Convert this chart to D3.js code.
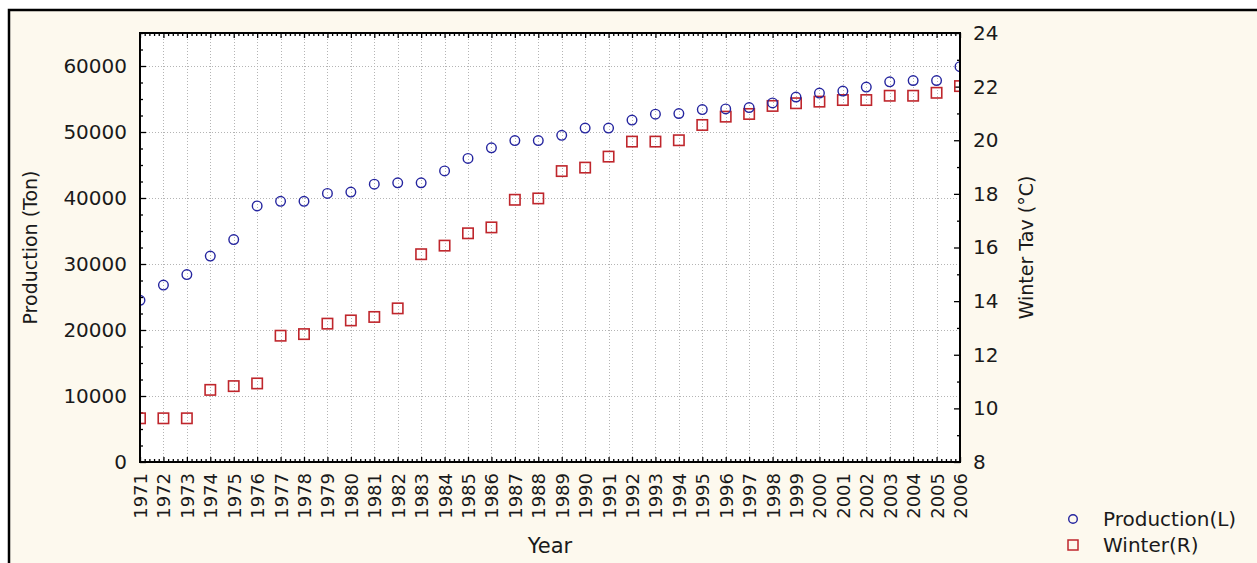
<!DOCTYPE html>
<html>
<head>
<meta charset="utf-8">
<script src="https://cdn.jsdelivr.net/npm/d3@7"></script>
<style>
  html, body { margin: 0; padding: 0; background: #ffffff; overflow: hidden; }
  svg { display: block; }
  svg text { font-family: "DejaVu Sans", sans-serif; fill: #1a1a1a; }
</style>
</head>
<body>
<div id="wrapper"></div>
<script>
// Data
const years = [1971, 1972, 1973, 1974, 1975, 1976, 1977, 1978, 1979, 1980,
  1981, 1982, 1983, 1984, 1985, 1986, 1987, 1988, 1989, 1990,
  1991, 1992, 1993, 1994, 1995, 1996, 1997, 1998, 1999, 2000,
  2001, 2002, 2003, 2004, 2005, 2006];
const production = [24500, 26800, 28400, 31200, 33700, 38800, 39500, 39500, 40700, 40900,
  42100, 42300, 42300, 44100, 46000, 47600, 48700, 48700, 49500, 50600,
  50600, 51800, 52700, 52800, 53400, 53500, 53700, 54400, 55300, 55900,
  56200, 56800, 57600, 57800, 57800, 59900];
const winter = [9.63, 9.63, 9.63, 10.69, 10.83, 10.93, 12.71, 12.77, 13.16, 13.28,
  13.41, 13.73, 15.75, 16.07, 16.53, 16.75, 17.78, 17.83, 18.85, 18.98,
  19.39, 19.95, 19.95, 20.0, 20.57, 20.88, 20.98, 21.28, 21.38, 21.44,
  21.5, 21.5, 21.66, 21.66, 21.77, 22.02];
const leftTicks = [0, 10000, 20000, 30000, 40000, 50000, 60000];
const rightTicks = [8, 10, 12, 14, 16, 18, 20, 22, 24];
const seriesNames = ["Production(L)", "Winter(R)"];

function drawChart() {
  const width = 1257;
  const height = 563;
  const plot = { left: 140, top: 33, right: 960, bottom: 462 };
  const blue = "#25259f";
  const red = "#bf262c";

  const svg = d3.select("#wrapper")
    .append("svg")
      .attr("width", width)
      .attr("height", height);

  // Outer panel (right and bottom edges run off the picture)
  svg.append("rect")
    .attr("x", 9).attr("y", 10)
    .attr("width", width + 40).attr("height", height + 40)
    .attr("fill", "#fdf9ee")
    .attr("stroke", "#000")
    .attr("stroke-width", 2.5);

  svg.append("rect")
    .attr("x", plot.left).attr("y", plot.top)
    .attr("width", plot.right - plot.left)
    .attr("height", plot.bottom - plot.top)
    .attr("fill", "#ffffff");

  // Scales
  const xScale = d3.scaleLinear()
    .domain([years[0], years[years.length - 1]])
    .range([plot.left, plot.right]);
  const yLeft = d3.scaleLinear()
    .domain([0, 65000])
    .range([plot.bottom, plot.top]);
  const yRight = d3.scaleLinear()
    .domain([8, 24])
    .range([plot.bottom, plot.top]);

  // Grid
  const grid = svg.append("g")
    .attr("stroke", "#b4b4b4")
    .attr("stroke-width", 1)
    .attr("stroke-dasharray", "1,2");
  grid.selectAll(".vgrid")
    .data(years)
    .join("line")
      .attr("x1", d => Math.round(xScale(d)) + 0.5)
      .attr("x2", d => Math.round(xScale(d)) + 0.5)
      .attr("y1", plot.top)
      .attr("y2", plot.bottom);
  grid.selectAll(".hgrid")
    .data(leftTicks)
    .join("line")
      .attr("x1", plot.left)
      .attr("x2", plot.right)
      .attr("y1", d => Math.round(yLeft(d)) + 0.5)
      .attr("y2", d => Math.round(yLeft(d)) + 0.5);

  // Minor ticks
  const minorX = d3.range(0, years.length - 1).flatMap(i =>
    [0.2, 0.4, 0.6, 0.8].map(f => years[i] + f));
  const minorLeft = d3.range(2500, 65001, 2500).filter(v => v % 10000 !== 0);
  const minorRight = [9, 11, 13, 15, 17, 19, 21, 23];

  const styleAxis = g => {
    g.select(".domain").remove();
    g.selectAll(".tick line").attr("stroke", "#000").attr("stroke-width", 1.3);
    g.selectAll("text").attr("font-size", 20).attr("fill", "#1a1a1a");
  };

  // Left axis
  svg.append("g")
    .attr("transform", `translate(${plot.left},0)`)
    .call(d3.axisLeft(yLeft).tickValues(leftTicks).tickSize(-6).tickPadding(13)
      .tickFormat(d3.format("d")))
    .call(styleAxis);
  svg.append("g")
    .attr("transform", `translate(${plot.left},0)`)
    .call(d3.axisLeft(yLeft).tickValues(minorLeft).tickSize(-3).tickFormat(""))
    .call(styleAxis);

  // Right axis
  svg.append("g")
    .attr("transform", `translate(${plot.right},0)`)
    .call(d3.axisRight(yRight).tickValues(rightTicks).tickSize(-6).tickPadding(13))
    .call(styleAxis);
  svg.append("g")
    .attr("transform", `translate(${plot.right},0)`)
    .call(d3.axisRight(yRight).tickValues(minorRight).tickSize(-3).tickFormat(""))
    .call(styleAxis);

  // Bottom axis with rotated year labels
  svg.append("g")
    .attr("transform", `translate(0,${plot.bottom})`)
    .call(d3.axisBottom(xScale).tickValues(years).tickSize(-5).tickFormat(d3.format("d")))
    .call(styleAxis)
    .call(g => g.selectAll("text")
      .attr("font-size", 18)
      .attr("y", 0)
      .attr("x", -11)
      .attr("dy", "0.36em")
      .attr("transform", "rotate(-90)")
      .style("text-anchor", "end"));
  svg.append("g")
    .attr("transform", `translate(0,${plot.bottom})`)
    .call(d3.axisBottom(xScale).tickValues(minorX).tickSize(-3).tickFormat(""))
    .call(styleAxis);

  // Top axis (ticks only)
  svg.append("g")
    .attr("transform", `translate(0,${plot.top})`)
    .call(d3.axisTop(xScale).tickValues(years).tickSize(-5).tickFormat(""))
    .call(styleAxis);
  svg.append("g")
    .attr("transform", `translate(0,${plot.top})`)
    .call(d3.axisTop(xScale).tickValues(minorX).tickSize(-3).tickFormat(""))
    .call(styleAxis);

  // Markers, clipped to the plot area
  svg.append("clipPath").attr("id", "plot-clip")
    .append("rect")
      .attr("x", plot.left).attr("y", plot.top)
      .attr("width", plot.right - plot.left)
      .attr("height", plot.bottom - plot.top);
  const marks = svg.append("g").attr("clip-path", "url(#plot-clip)");

  marks.selectAll(".sq")
    .data(years)
    .join("rect")
      .attr("x", d => xScale(d) - 5.2)
      .attr("y", (d, i) => yRight(winter[i]) - 5.2)
      .attr("width", 10.4)
      .attr("height", 10.4)
      .attr("fill", "none")
      .attr("stroke", red)
      .attr("stroke-width", 1.6);

  marks.selectAll(".circ")
    .data(years)
    .join("circle")
      .attr("cx", d => xScale(d))
      .attr("cy", (d, i) => yLeft(production[i]))
      .attr("r", 4.8)
      .attr("fill", "none")
      .attr("stroke", blue)
      .attr("stroke-width", 1.4);

  // Frame
  svg.append("rect")
    .attr("x", plot.left).attr("y", plot.top)
    .attr("width", plot.right - plot.left)
    .attr("height", plot.bottom - plot.top)
    .attr("fill", "none")
    .attr("stroke", "#000")
    .attr("stroke-width", 2);

  // Axis titles
  svg.append("text")
    .attr("x", (plot.left + plot.right) / 2)
    .attr("y", 553)
    .attr("text-anchor", "middle")
    .attr("font-size", 21)
    .text("Year");
  svg.append("text")
    .attr("transform", `translate(37,${(plot.top + plot.bottom) / 2}) rotate(-90)`)
    .attr("text-anchor", "middle")
    .attr("font-size", 19)
    .text("Production (Ton)");
  svg.append("text")
    .attr("transform", `translate(1033,${(plot.top + plot.bottom) / 2}) rotate(-90)`)
    .attr("text-anchor", "middle")
    .attr("font-size", 19)
    .text("Winter Tav (°C)");

  // Legend
  const legend = svg.append("g").attr("transform", "translate(1073,519)");
  legend.append("circle")
    .attr("cx", 0).attr("cy", 0).attr("r", 4.3)
    .attr("fill", "none").attr("stroke", blue).attr("stroke-width", 1.4);
  legend.append("rect")
    .attr("x", -5).attr("y", 26 - 5).attr("width", 10).attr("height", 10)
    .attr("fill", "none").attr("stroke", red).attr("stroke-width", 1.5);
  legend.selectAll(".lt")
    .data(seriesNames)
    .join("text")
      .attr("x", 30)
      .attr("y", (d, i) => i * 26 + 7)
      .attr("font-size", 20)
      .text(d => d);
}
drawChart();
</script>
</body>
</html>
